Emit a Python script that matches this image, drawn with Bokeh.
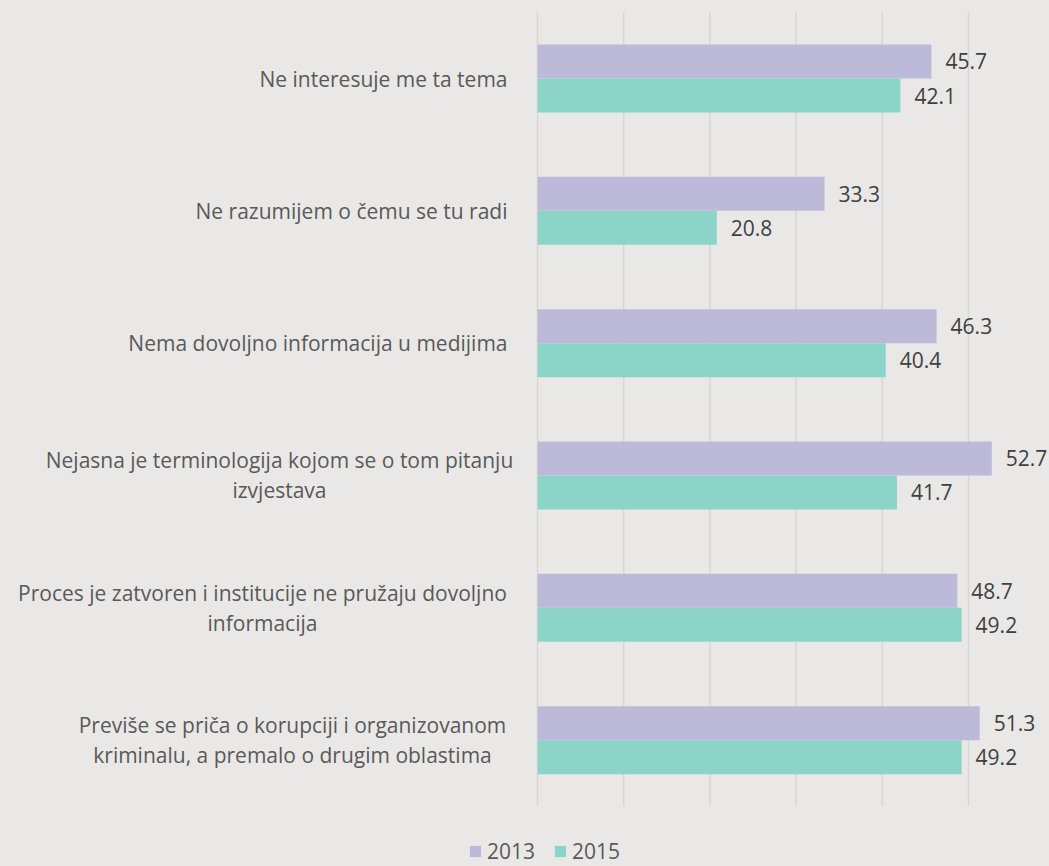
from bokeh.plotting import figure
from bokeh.models import ColumnDataSource, Legend, LegendItem, Range1d
from bokeh.core.properties import value
from bokeh.embed import file_html
from bokeh.resources import INLINE

# ---- data ----
categories = [
    "Ne interesuje me ta tema",
    "Ne razumijem o čemu se tu radi",
    "Nema dovoljno informacija u medijima",
    "Nejasna je terminologija kojom se o tom pitanju\nizvjestava",
    "Proces je zatvoren i institucije ne pružaju dovoljno\ninformacija",
    "Previše se priča o korupciji i organizovanom\nkriminalu, a premalo o drugim oblastima",
]
series_names = ["2013", "2015"]
values_2013 = [45.7, 33.3, 46.3, 52.7, 48.7, 51.3]
values_2015 = [42.1, 20.8, 40.4, 41.7, 49.2, 49.2]
grid_ticks = [0, 10, 20, 30, 40, 50]

# ---- style / layout ----
W, H = 1049, 866
BG = "#e9e8e6"
C13 = "#bdbad9"
C15 = "#8dd4c8"
GRID = "#d6d6d4"
TXT = "#595959"
VAL = "#404040"
FONT = "Open Sans"
FS = "21px"
BAR_H = 0.257
X0_PX = 537          # pixel of value 0
PX_PER_UNIT = 8.62
CAT_PX = 132.33      # pixels per category
FIRST_CAT_PX = 78    # pixel of first category centre
label_centre_offset = {3: -258, 4: -275, 5: -245}
single_right_offset = -30
LINE_GAP = 30

n = len(categories)
ypos = [n - 1 - i for i in range(n)]

src = ColumnDataSource(dict(
    y13=[y + BAR_H / 2 for y in ypos],
    y15=[y - BAR_H / 2 for y in ypos],
    v13=values_2013,
    v15=values_2015,
    t13=[f"{v:.1f}" for v in values_2013],
    t15=[f"{v:.1f}" for v in values_2015],
))

# category label lines
lx, ly, lt, lxo, lyo, la = [], [], [], [], [], []
for i, cat in enumerate(categories):
    lines = cat.split("\n")
    k = len(lines)
    for j, line in enumerate(lines):
        lx.append(0)
        ly.append(ypos[i])
        lt.append(line)
        if k == 1:
            lxo.append(single_right_offset)
            la.append("right")
        else:
            lxo.append(label_centre_offset[i])
            la.append("center")
        lyo.append(-LINE_GAP * (k - 1) / 2 + LINE_GAP * j)
lab_src = ColumnDataSource(dict(x=lx, y=ly, text=lt, xo=lxo, yo=lyo, align=la))

x_start = -X0_PX / PX_PER_UNIT
x_end = (W - X0_PX) / PX_PER_UNIT
y_top = (n - 1) + FIRST_CAT_PX / CAT_PX
y_bot = y_top - H / CAT_PX

p = figure(width=W, height=H, x_range=Range1d(x_start, x_end),
           y_range=Range1d(y_bot, y_top), output_backend="svg",
           toolbar_location=None, min_border=0)
p.background_fill_color = BG
p.border_fill_color = BG
p.outline_line_color = None
p.axis.visible = False
p.grid.visible = False

# grid lines
p.segment(x0=grid_ticks, x1=grid_ticks, y0=[-0.5] * len(grid_ticks),
          y1=[n - 0.5] * len(grid_ticks), line_color=GRID, line_width=1.5)

r13 = p.hbar(y="y13", right="v13", left=0, height=BAR_H, source=src,
             fill_color=C13, line_color=None)
r15 = p.hbar(y="y15", right="v15", left=0, height=BAR_H, source=src,
             fill_color=C15, line_color=None)

for ycol, vcol, tcol in (("y13", "v13", "t13"), ("y15", "v15", "t15")):
    p.text(x=vcol, y=ycol, text=tcol, source=src, x_offset=14,
           text_baseline="middle", text_align="left",
           text_font=value(FONT), text_font_size=value(FS), text_color=VAL)

p.text(x="x", y="y", text="text", source=lab_src, x_offset="xo", y_offset="yo",
       text_align="align", text_baseline="middle", text_font=value(FONT),
       text_font_size=value(FS), text_color=TXT)

legend = Legend(items=[LegendItem(label=series_names[0], renderers=[r13]),
                       LegendItem(label=series_names[1], renderers=[r15])],
                orientation="horizontal", location=(468, 1),
                label_text_font=FONT, label_text_font_size=FS,
                label_text_color=TXT, glyph_width=14, glyph_height=14,
                spacing=18, label_standoff=5, padding=0, margin=0,
                border_line_color=None, background_fill_alpha=0)
p.add_layout(legend, "center")

html = file_html(p, INLINE)
html = html.replace("<head>", "<head><style>html,body{background:#e9e8e6;}</style>", 1)
open("out.html", "w").write(html)
